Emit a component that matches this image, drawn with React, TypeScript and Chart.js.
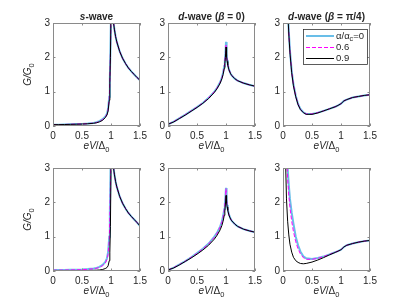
import React, { useEffect, useRef } from "react";
import { Chart, registerables } from "chart.js";
Chart.register(...registerables);

// ---------- data ----------
const X_TICKS = [0, 0.5, 1, 1.5];
const Y_TICKS = [0, 1, 2, 3];
const LEGEND_VALUES = ["0", "0.6", "0.9"];

const xS = [0, 0.1, 0.2, 0.3, 0.4, 0.5, 0.6, 0.7, 0.75, 0.8, 0.85, 0.9, 0.93, 0.95, 0.97, 0.98, 0.99, 1.0, 1.01, 1.02, 1.03, 1.04, 1.06, 1.08, 1.1, 1.15, 1.2, 1.25, 1.3, 1.35, 1.4, 1.45, 1.5];
const sTop0 = [0.04, 0.04, 0.045, 0.05, 0.055, 0.06, 0.07, 0.09, 0.11, 0.14, 0.19, 0.27, 0.36, 0.5, 0.85, 1.4, 2.2, 3.3, 6, 5.5, 3.6, 3.05, 2.8, 2.6, 2.45, 2.17, 1.97, 1.82, 1.69, 1.59, 1.5, 1.41, 1.33];
const sTop6 = [0.04, 0.04, 0.045, 0.05, 0.055, 0.06, 0.068, 0.085, 0.1, 0.13, 0.18, 0.26, 0.34, 0.47, 0.8, 1.3, 2.1, 3.3, 6, 5.5, 3.6, 3.05, 2.8, 2.6, 2.45, 2.17, 1.97, 1.82, 1.69, 1.59, 1.5, 1.41, 1.33];
const sTop9 = [0.04, 0.04, 0.043, 0.048, 0.052, 0.057, 0.065, 0.08, 0.095, 0.12, 0.16, 0.24, 0.32, 0.44, 0.75, 1.25, 2.0, 3.2, 6, 5.5, 3.6, 3.05, 2.8, 2.6, 2.45, 2.17, 1.97, 1.82, 1.69, 1.59, 1.5, 1.41, 1.33];
const sBot0 = [0.03, 0.03, 0.032, 0.035, 0.04, 0.045, 0.055, 0.075, 0.09, 0.12, 0.17, 0.26, 0.37, 0.55, 1.0, 1.7, 2.7, 4, 6, 5.5, 3.6, 3.05, 2.8, 2.6, 2.45, 2.17, 1.97, 1.82, 1.69, 1.59, 1.5, 1.41, 1.31];
const sBot6 = [0.025, 0.025, 0.027, 0.03, 0.034, 0.039, 0.048, 0.065, 0.08, 0.105, 0.15, 0.23, 0.33, 0.48, 0.9, 1.55, 2.5, 3.8, 6, 5.5, 3.6, 3.05, 2.8, 2.6, 2.45, 2.17, 1.97, 1.82, 1.69, 1.59, 1.5, 1.41, 1.31];
const sBot9 = [0.01, 0.01, 0.01, 0.011, 0.012, 0.013, 0.015, 0.02, 0.024, 0.03, 0.042, 0.07, 0.1, 0.15, 0.3, 0.55, 1.3, 3.0, 6, 5.5, 3.6, 3.05, 2.8, 2.6, 2.45, 2.17, 1.97, 1.82, 1.69, 1.59, 1.5, 1.41, 1.31];

const xD = [0, 0.1, 0.2, 0.3, 0.4, 0.5, 0.6, 0.7, 0.8, 0.85, 0.9, 0.93, 0.95, 0.97, 0.98, 0.99, 1.0, 1.01, 1.02, 1.03, 1.05, 1.08, 1.1, 1.15, 1.2, 1.3, 1.4, 1.5];
const dTop0 = [0.05, 0.13, 0.23, 0.33, 0.44, 0.55, 0.67, 0.82, 1.0, 1.12, 1.28, 1.42, 1.55, 1.75, 1.9, 2.1, 2.45, 2.1, 1.92, 1.8, 1.65, 1.52, 1.47, 1.38, 1.32, 1.25, 1.2, 1.16];
const dTop6 = [0.05, 0.13, 0.23, 0.33, 0.44, 0.55, 0.67, 0.82, 1.0, 1.12, 1.27, 1.41, 1.53, 1.73, 1.87, 2.06, 2.38, 2.07, 1.9, 1.79, 1.65, 1.52, 1.47, 1.38, 1.32, 1.25, 1.2, 1.16];
const dTop9 = [0.05, 0.12, 0.22, 0.32, 0.43, 0.54, 0.66, 0.8, 0.98, 1.1, 1.25, 1.38, 1.5, 1.68, 1.82, 2.0, 2.3, 2.02, 1.88, 1.78, 1.64, 1.52, 1.47, 1.38, 1.32, 1.25, 1.2, 1.16];
const dBot0 = [0.03, 0.1, 0.19, 0.29, 0.4, 0.52, 0.65, 0.8, 1.0, 1.13, 1.3, 1.45, 1.6, 1.8, 1.95, 2.15, 2.42, 2.1, 1.92, 1.8, 1.65, 1.52, 1.46, 1.37, 1.3, 1.22, 1.17, 1.13];
const dBot6 = [0.03, 0.1, 0.19, 0.29, 0.4, 0.51, 0.64, 0.79, 0.98, 1.11, 1.28, 1.43, 1.57, 1.77, 1.92, 2.12, 2.4, 2.08, 1.91, 1.8, 1.65, 1.52, 1.46, 1.37, 1.3, 1.22, 1.17, 1.13];
const dBot9 = [0.03, 0.09, 0.18, 0.28, 0.38, 0.49, 0.61, 0.75, 0.93, 1.05, 1.2, 1.33, 1.45, 1.62, 1.75, 1.95, 2.2, 1.98, 1.86, 1.77, 1.63, 1.51, 1.46, 1.37, 1.3, 1.22, 1.17, 1.13];

const xP = [0.02, 0.04, 0.06, 0.08, 0.1, 0.12, 0.15, 0.18, 0.22, 0.26, 0.3, 0.35, 0.4, 0.5, 0.6, 0.7, 0.8, 0.9, 0.95, 1.0, 1.05, 1.1, 1.2, 1.3, 1.4, 1.5];
const pTop0 = [12, 7, 4.8, 3.5, 2.75, 2.2, 1.6, 1.22, 0.88, 0.64, 0.5, 0.4, 0.35, 0.35, 0.39, 0.44, 0.5, 0.56, 0.6, 0.65, 0.73, 0.77, 0.83, 0.86, 0.89, 0.91];
const pTop6 = [12, 7, 4.7, 3.45, 2.72, 2.17, 1.58, 1.2, 0.87, 0.63, 0.49, 0.39, 0.35, 0.35, 0.39, 0.44, 0.5, 0.56, 0.6, 0.65, 0.73, 0.77, 0.83, 0.86, 0.89, 0.91];
const pTop9 = [12, 7, 4.6, 3.4, 2.68, 2.13, 1.55, 1.17, 0.85, 0.62, 0.48, 0.39, 0.34, 0.34, 0.38, 0.44, 0.5, 0.56, 0.6, 0.65, 0.73, 0.77, 0.83, 0.86, 0.89, 0.91];
const pBot0 = [12, 6.5, 4.2, 3.0, 2.5, 2.1, 1.7, 1.38, 1.0, 0.75, 0.57, 0.43, 0.37, 0.35, 0.38, 0.42, 0.48, 0.55, 0.58, 0.62, 0.7, 0.75, 0.8, 0.84, 0.87, 0.89];
const pBot6 = [10, 5.5, 3.6, 2.7, 2.2, 1.85, 1.45, 1.15, 0.85, 0.64, 0.5, 0.39, 0.34, 0.34, 0.37, 0.42, 0.48, 0.55, 0.58, 0.62, 0.7, 0.75, 0.8, 0.84, 0.87, 0.89];
const pBot9 = [6, 3.5, 2.1, 1.45, 1.05, 0.78, 0.55, 0.4, 0.3, 0.25, 0.22, 0.21, 0.22, 0.26, 0.32, 0.39, 0.47, 0.54, 0.58, 0.62, 0.7, 0.75, 0.8, 0.84, 0.87, 0.89];

// ---------- styling ----------
const FONT = '"Liberation Sans", Arial, Helvetica, sans-serif';
const TEXT_COLOR = "#262626";
const AXIS_COLOR = "#8a8a8a";
const SERIES_STYLE = [
  { color: "rgb(105,190,232)", width: 2, dash: [] as number[], order: 2 },
  { color: "#ff00ff", width: 1, dash: [4, 2], order: 1 },
  { color: "#000000", width: 1, dash: [] as number[], order: 0 },
];

type Seg = { t: string; i?: boolean; b?: boolean; sub?: boolean };

const PLOT_W = 87;
const PLOT_H = 103;
const COL_LEFT = [53, 168, 283];
const ROW_TOP = [23, 168];
const PAD_L = 53;
const PAD_T = 23;
const PAD_R = 22;
const PAD_B = 36;

const TITLES: Seg[][] = [
  [{ t: "s", i: true, b: true }, { t: "-wave", b: true }],
  [{ t: "d", i: true, b: true }, { t: "-wave (", b: true }, { t: "β", i: true, b: true }, { t: " = 0)", b: true }],
  [{ t: "d", i: true, b: true }, { t: "-wave (", b: true }, { t: "β", i: true, b: true }, { t: " = π/4)", b: true }],
];

const PANELS = [
  { row: 0, col: 0, xs: xS, ys: [sTop0, sTop6, sTop9] },
  { row: 0, col: 1, xs: xD, ys: [dTop0, dTop6, dTop9] },
  { row: 0, col: 2, xs: xP, ys: [pTop0, pTop6, pTop9] },
  { row: 1, col: 0, xs: xS, ys: [sBot0, sBot6, sBot9] },
  { row: 1, col: 1, xs: xD, ys: [dBot0, dBot6, dBot9] },
  { row: 1, col: 2, xs: xP, ys: [pBot0, pBot6, pBot9] },
];

function segFont(s: Seg, size: number) {
  const sz = s.sub ? size * 0.75 : size;
  return `${s.i ? "italic " : ""}${s.b ? "bold " : ""}${sz}px ${FONT}`;
}

function drawRich(ctx: CanvasRenderingContext2D, segs: Seg[], cx: number, cy: number, size: number) {
  let total = 0;
  const widths = segs.map((s) => {
    ctx.font = segFont(s, size);
    const w = ctx.measureText(s.t).width;
    total += w;
    return w;
  });
  let x = cx - total / 2;
  ctx.textAlign = "left";
  ctx.textBaseline = "middle";
  ctx.fillStyle = TEXT_COLOR;
  segs.forEach((s, k) => {
    ctx.font = segFont(s, size);
    ctx.fillText(s.t, x, s.sub ? cy + size * 0.35 : cy);
    x += widths[k];
  });
}

function drawRichLeft(ctx: CanvasRenderingContext2D, segs: Seg[], x0: number, cy: number, size: number) {
  let x = x0;
  ctx.textAlign = "left";
  ctx.textBaseline = "middle";
  ctx.fillStyle = TEXT_COLOR;
  segs.forEach((s) => {
    ctx.font = segFont(s, size);
    ctx.fillText(s.t, x, s.sub ? cy + size * 0.35 : cy);
    x += ctx.measureText(s.t).width;
  });
}

const decorPlugin = {
  id: "matlabDecor",
  afterDatasetsDraw(chart: any) {
    const p = chart.options.plugins.matlabDecor;
    const ctx: CanvasRenderingContext2D = chart.ctx;
    const a = chart.chartArea;
    const xs = chart.scales.x;
    const ys = chart.scales.y;
    ctx.save();
    // box
    ctx.strokeStyle = AXIS_COLOR;
    ctx.lineWidth = 1;
    ctx.strokeRect(Math.round(a.left) + 0.5, Math.round(a.top) + 0.5, Math.round(a.right - a.left) - 1, Math.round(a.bottom - a.top) - 1);
    // inward ticks on all sides
    const tl = 2.5;
    ctx.beginPath();
    X_TICKS.forEach((v) => {
      const px = Math.round(xs.getPixelForValue(v)) + 0.5;
      ctx.moveTo(px, a.bottom);
      ctx.lineTo(px, a.bottom - tl);
      ctx.moveTo(px, a.top);
      ctx.lineTo(px, a.top + tl);
    });
    Y_TICKS.forEach((v) => {
      const py = Math.round(ys.getPixelForValue(v)) + 0.5;
      ctx.moveTo(a.left, py);
      ctx.lineTo(a.left + tl, py);
      ctx.moveTo(a.right, py);
      ctx.lineTo(a.right - tl, py);
    });
    ctx.stroke();

    // x label
    const cxm = (a.left + a.right) / 2;
    drawRich(ctx, [{ t: "eV", i: true }, { t: "/Δ" }, { t: "0", sub: true }], cxm, a.bottom + 20.5, 10);
    // y label
    if (p.col === 0) {
      ctx.save();
      ctx.translate(a.left - 25, (a.top + a.bottom) / 2);
      ctx.rotate(-Math.PI / 2);
      drawRich(ctx, [{ t: "G/G", i: true }, { t: "0", sub: true }], 0, 0, 10);
      ctx.restore();
    }
    // title
    if (p.row === 0) {
      drawRich(ctx, TITLES[p.col], cxm, a.top - 6, 10);
    }
    // legend
    if (p.row === 0 && p.col === 2) {
      const lx = a.right - 67;
      const ly = a.top + 6;
      const lw = 64;
      const lh = 35;
      ctx.fillStyle = "#ffffff";
      ctx.fillRect(lx, ly, lw, lh);
      ctx.strokeStyle = "#262626";
      ctx.lineWidth = 0.75;
      ctx.strokeRect(lx + 0.5, ly + 0.5, lw, lh);
      const rowsY = [ly + 7, ly + 18.5, ly + 29.5];
      SERIES_STYLE.forEach((st, k) => {
        ctx.save();
        ctx.strokeStyle = st.color;
        ctx.lineWidth = st.width;
        ctx.setLineDash(st.dash);
        ctx.beginPath();
        ctx.moveTo(lx + 3, rowsY[k]);
        ctx.lineTo(lx + 31, rowsY[k]);
        ctx.stroke();
        ctx.restore();
        const segs: Seg[] =
          k === 0
            ? [{ t: "α/α" }, { t: "c", sub: true }, { t: "=" + LEGEND_VALUES[0] }]
            : [{ t: LEGEND_VALUES[k] }];
        drawRichLeft(ctx, segs, lx + 33, rowsY[k], 9.5);
      });
    }
    ctx.restore();
  },
};

function Panel({ panel }: { panel: (typeof PANELS)[number] }) {
  const ref = useRef<HTMLCanvasElement | null>(null);
  const width = PAD_L + PLOT_W + PAD_R;
  const height = PAD_T + PLOT_H + PAD_B;
  useEffect(() => {
    const canvas = ref.current;
    if (!canvas) return;
    const datasets = panel.ys.map((ys, k) => ({
      label: k === 0 ? "α/α_c=" + LEGEND_VALUES[0] : LEGEND_VALUES[k],
      data: panel.xs.map((x, i) => ({ x, y: ys[i] })),
      borderColor: SERIES_STYLE[k].color,
      borderWidth: SERIES_STYLE[k].width,
      borderDash: SERIES_STYLE[k].dash,
      pointRadius: 0,
      tension: 0,
      fill: false,
      order: SERIES_STYLE[k].order,
    }));
    const tickFont = { family: FONT, size: 10 };
    const chart = new Chart(canvas, {
      type: "line",
      data: { datasets },
      plugins: [decorPlugin],
      options: {
        animation: false,
        responsive: false,
        maintainAspectRatio: false,
        devicePixelRatio: 1,
        layout: { padding: { left: 0, top: PAD_T, right: PAD_R, bottom: 0 } },
        plugins: {
          legend: { display: false },
          title: { display: false },
          tooltip: { enabled: false },
          matlabDecor: { row: panel.row, col: panel.col },
        } as any,
        scales: {
          x: {
            type: "linear",
            min: 0,
            max: 1.5,
            afterBuildTicks: (s: any) => {
              s.ticks = X_TICKS.map((v) => ({ value: v }));
            },
            afterFit: (s: any) => {
              s.height = PAD_B;
            },
            grid: { display: false, drawTicks: false },
            border: { display: false },
            ticks: {
              padding: 4,
              color: TEXT_COLOR,
              font: tickFont,
              autoSkip: false,
              maxRotation: 0,
              callback: (v: any) => String(v),
            },
          },
          y: {
            type: "linear",
            min: 0,
            max: 3,
            afterBuildTicks: (s: any) => {
              s.ticks = Y_TICKS.map((v) => ({ value: v }));
            },
            afterFit: (s: any) => {
              s.width = PAD_L;
            },
            grid: { display: false, drawTicks: false },
            border: { display: false },
            ticks: {
              padding: 3,
              color: TEXT_COLOR,
              font: tickFont,
              callback: (v: any) => String(v),
            },
          },
        },
      },
    });
    return () => chart.destroy();
  }, [panel]);
  return (
    <canvas
      ref={ref}
      width={width}
      height={height}
      style={{
        position: "absolute",
        left: COL_LEFT[panel.col] - PAD_L,
        top: ROW_TOP[panel.row] - PAD_T,
        width,
        height,
      }}
    />
  );
}

export default function App() {
  return (
    <div
      style={{
        position: "fixed",
        left: 0,
        top: 0,
        width: 411,
        height: 308,
        background: "#ffffff",
        overflow: "hidden",
      }}
    >
      {PANELS.map((p, i) => (
        <Panel key={i} panel={p} />
      ))}
    </div>
  );
}
